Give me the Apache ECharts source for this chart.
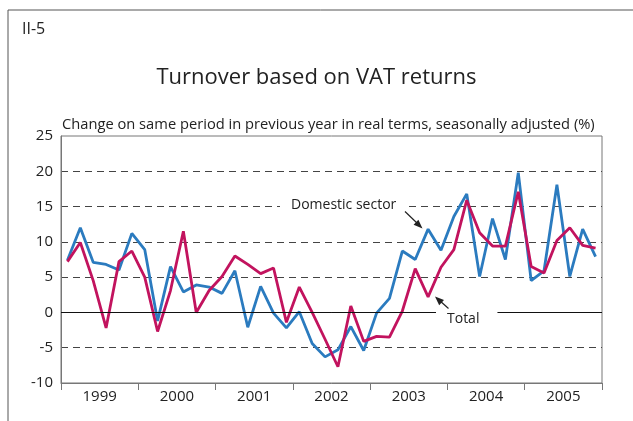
<!DOCTYPE html>
<html>
<head>
<meta charset="utf-8">
<title>Turnover based on VAT returns</title>
<script src="https://cdn.jsdelivr.net/npm/echarts@6/dist/echarts.min.js"></script>
<style>
  html, body { margin: 0; padding: 0; background: #fff; }
  #chart { width: 633px; height: 421px; }
</style>
</head>
<body>
<div id="chart"></div>
<script>
// bimonthly VAT periods, 6 per year
const years = ['1999', '2000', '2001', '2002', '2003', '2004', '2005']
const periods = []
years.forEach(y => {
  for (let p = 1; p <= 6; p++) periods.push(y + '-' + p)
})

const domestic = [
  7.4, 12.0, 7.1, 6.8, 6.0, 11.2,
  8.9, -1.2, 6.5, 2.9, 3.9, 3.6,
  2.7, 5.9, -2.1, 3.7, -0.1, -2.2,
  0.1, -4.4, -6.3, -5.3, -2.0, -5.4,
  -0.1, 2.0, 8.7, 7.5, 11.8, 8.8,
  13.6, 16.8, 5.1, 13.3, 7.5, 19.8,
  4.5, 5.9, 18.1, 5.1, 11.8, 7.9
]
const total = [
  7.2, 9.9, 4.5, -2.2, 7.2, 8.7,
  5.0, -2.7, 3.1, 11.5, 0.0, 3.1,
  5.1, 8.0, 6.8, 5.5, 6.3, -1.4,
  3.6, 0.0, -3.8, -7.7, 0.9, -4.1,
  -3.4, -3.5, 0.2, 6.2, 2.2, 6.4,
  8.9, 15.9, 11.3, 9.4, 9.4, 17.1,
  6.5, 5.6, 10.2, 12.0, 9.5, 9.1
]

const font = '"Open Sans", "Noto Sans", sans-serif'
const txt = '#222'

const chart = echarts.init(document.getElementById('chart'))
chart.setOption({
  animation: false,
  textStyle: { fontFamily: font },
  title: {
    text: 'Turnover based on VAT returns',
    left: 'center',
    top: 62,
    textStyle: { fontSize: 22, fontWeight: 'normal', color: txt, fontFamily: font }
  },
  grid: {
    left: 61, right: 31, top: 136, bottom: 38,
    show: true, borderColor: '#777', borderWidth: 1
  },
  xAxis: [
    {
      type: 'category',
      data: periods,
      boundaryGap: true,
      show: false
    },
    {
      type: 'category',
      data: years,
      position: 'bottom',
      boundaryGap: true,
      axisLine: { lineStyle: { color: '#777', width: 1 } },
      axisTick: { show: true, length: 7, interval: 0, lineStyle: { color: '#777' } },
      axisLabel: { fontSize: 15, color: txt, margin: 6, interval: 0 },
      splitLine: { show: false }
    }
  ],
  yAxis: {
    type: 'value',
    min: -10,
    max: 25,
    interval: 5,
    axisLine: { show: true, lineStyle: { color: '#777' } },
    axisTick: { show: false },
    axisLabel: { fontSize: 15, color: txt, margin: 8 },
    splitLine: {
      show: true,
      showMinLine: false,
      showMaxLine: false,
      lineStyle: { color: '#444', type: [7, 5], width: 1 }
    }
  },
  series: [
    {
      name: 'zero',
      type: 'line',
      data: [],
      z: 1,
      silent: true,
      markLine: {
        silent: true,
        symbol: 'none',
        label: { show: false },
        lineStyle: { color: '#111', type: 'solid', width: 1 },
        data: [{ yAxis: 0 }]
      }
    },
    {
      name: 'Domestic sector',
      type: 'line',
      data: domestic,
      showSymbol: false,
      z: 3,
      lineStyle: { color: '#2b7bbf', width: 2.8 },
      itemStyle: { color: '#2b7bbf' }
    },
    {
      name: 'Total',
      type: 'line',
      data: total,
      showSymbol: false,
      z: 4,
      lineStyle: { color: '#c2135e', width: 2.8 },
      itemStyle: { color: '#c2135e' }
    }
  ],
  graphic: [
    {
      type: 'polyline',
      shape: { points: [[8, 421], [8, 10], [633, 10]] },
      style: { stroke: '#555', lineWidth: 1, fill: null },
      silent: true
    },
    {
      type: 'text', x: 22, y: 29,
      style: { text: 'II-5', font: '16px ' + font, fill: txt, verticalAlign: 'middle' }
    },
    {
      type: 'text', x: 62, y: 125,
      style: {
        text: 'Change on same period in previous year in real terms, seasonally adjusted (%)',
        font: '14.7px ' + font, fill: txt, verticalAlign: 'middle'
      }
    },
    {
      type: 'text', x: 280, y: 205, z: 10,
      style: {
        text: 'Domestic sector', font: '14px ' + font, fill: txt,
        verticalAlign: 'middle', backgroundColor: '#fff', padding: [3, 12, 3, 11]
      }
    },
    {
      type: 'line', z: 10,
      shape: { x1: 405, y1: 211.5, x2: 418, y2: 224 },
      style: { stroke: '#222', lineWidth: 1.2 }
    },
    {
      type: 'polygon', z: 10,
      shape: { points: [[422.5, 228.5], [413.6, 224.8], [418.4, 219.8]] },
      style: { fill: '#222' }
    },
    {
      type: 'text', x: 436, y: 319, z: 10,
      style: {
        text: 'Total', font: '14px ' + font, fill: txt,
        verticalAlign: 'middle', backgroundColor: '#fff', padding: [6, 18, 3, 11]
      }
    },
    {
      type: 'line', z: 11,
      shape: { x1: 448.5, y1: 308.5, x2: 439, y2: 300 },
      style: { stroke: '#222', lineWidth: 1.2 }
    },
    {
      type: 'polygon', z: 11,
      shape: { points: [[435, 296.5], [444, 300], [439.2, 305.2]] },
      style: { fill: '#222' }
    }
  ]
})
</script>
</body>
</html>
